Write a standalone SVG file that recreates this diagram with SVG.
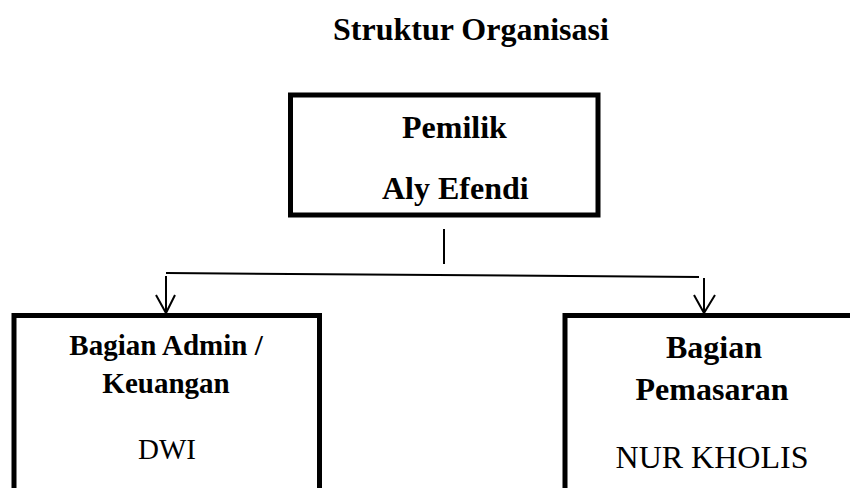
<svg xmlns="http://www.w3.org/2000/svg" width="850" height="488" viewBox="0 0 850 488">
<style>
.box{fill:#fff;stroke:#000;stroke-width:5}
.b{font-family:'Liberation Serif','Times New Roman','DejaVu Serif',Times,serif;font-weight:bold;fill:#000}
.r{font-family:'Liberation Serif','Times New Roman','DejaVu Serif',Times,serif;font-weight:normal;fill:#000}
.ln{fill:none;stroke:#000;stroke-width:2}
</style>
<rect width="850" height="488" fill="#fff"/>
<text class="b" x="333" y="40" font-size="32">Struktur Organisasi</text>
<g id="connectors">
<line class="ln" x1="444" y1="229" x2="444" y2="264"/>
<line class="ln" x1="166" y1="273" x2="699" y2="277"/>
<path class="ln" d="M166 276 V313 M156 295 L166 313 L175 295"/>
<path class="ln" d="M704 278 V313 M694 295 L704 313 L715 295"/>
</g>
<g id="pemilik">
<rect class="box" x="290.5" y="95" width="307.5" height="120"/>
<text class="b" x="402" y="138" font-size="32">Pemilik</text>
<text class="b" x="382" y="199" font-size="32">Aly Efendi</text>
</g>
<g id="admin">
<rect class="box" x="14" y="315.5" width="305.5" height="200"/>
<text class="b" x="166" y="355" font-size="29" text-anchor="middle">Bagian Admin /</text>
<text class="b" x="166" y="393" font-size="29" text-anchor="middle">Keuangan</text>
<text class="r" x="167" y="459" font-size="29" text-anchor="middle">DWI</text>
</g>
<g id="pemasaran">
<rect class="box" x="565" y="315.5" width="310" height="200"/>
<text class="b" x="714" y="358" font-size="32" text-anchor="middle">Bagian</text>
<text class="b" x="712" y="400" font-size="32" text-anchor="middle">Pemasaran</text>
<text class="r" x="712" y="468" font-size="32" text-anchor="middle">NUR KHOLIS</text>
</g>
</svg>
